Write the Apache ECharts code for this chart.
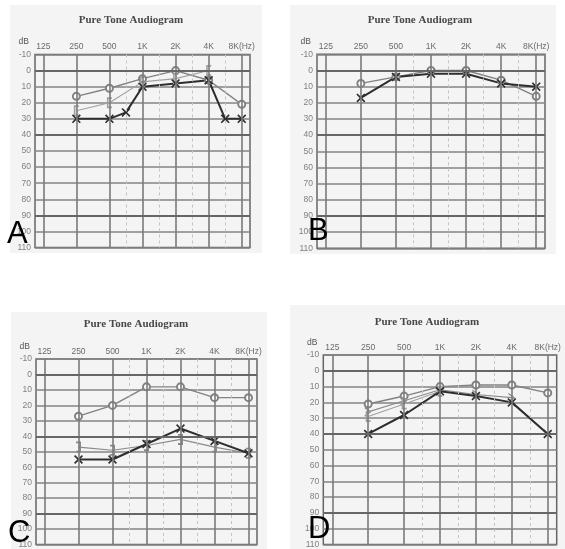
<!DOCTYPE html>
<html>
<head>
<meta charset="utf-8">
<script src="https://cdn.jsdelivr.net/npm/echarts@6/dist/echarts.min.js"></script>
<style>
html,body{margin:0;padding:0;background:#ffffff;}
#chart{width:565px;height:549px;}
</style>
</head>
<body>
<div id="chart"></div>
<script>
// ---- categories / tick labels ----
const xCategories = ['125','177','250','354','500','750','1K','1.5K','2K','3K','4K','6K','8K'];
const topLabels   = ['125','','250','','500','','1K','','2K','','4K','','8K(Hz)'];
const octaveLines = ['125','250','500','1K','2K','4K','8K'];
const midLines    = ['750','1.5K','3K','6K'];
const heavyDb     = [0, 40, 90];
const panelLetters = ['A','B','C','D'];
const panelTitle = 'Pure Tone Audiogram';

// ---- Panel A ----
const aRightAir = [['250',16],['500',11],['1K',5],['2K',0],['4K',6],['8K',21]];
const aBone     = [['250',25],['500',20],['1K',7],['2K',5],['4K',0]];
const aLeftAir  = [['250',30],['500',30],['750',26],['1K',10],['2K',8],['4K',6],['6K',30],['8K',30]];
// ---- Panel B ----
const bRightAir = [['250',8],['500',4],['1K',0],['2K',0],['4K',6],['8K',16]];
const bLeftAir  = [['250',17],['500',4],['1K',2],['2K',2],['4K',8],['8K',10]];
// ---- Panel C ----
const cRightAir = [['250',27],['500',20],['1K',8],['2K',8],['4K',15],['8K',15]];
const cBone     = [['250',47],['500',49],['1K',46],['2K',42],['4K',47],['8K',51]];
const cLeftAir  = [['250',55],['500',55],['1K',45],['2K',35],['4K',43],['8K',51]];
// ---- Panel D ----
const dRightAir = [['250',21],['500',16],['1K',10],['2K',9],['4K',9],['8K',14]];
const dBone     = [['250',26],['500',19],['1K',12],['2K',15],['4K',17]];
const dBone2    = [['250',29],['500',21],['1K',13]];
const dLeftAir  = [['250',40],['500',28],['1K',13],['2K',16],['4K',20],['8K',40]];

const X_PATH  = 'path://M0,1.3L1.3,0L5,3.7L8.7,0L10,1.3L6.3,5L10,8.7L8.7,10L5,6.3L1.3,10L0,8.7L3.7,5Z';
const LB_PATH = 'path://M0,0L5,0L5,1.6L1.6,1.6L1.6,8.4L5,8.4L5,10L0,10Z';
const RB_PATH = 'path://M0,0L5,0L5,10L0,10L0,8.4L3.4,8.4L3.4,1.6L0,1.6Z';
const GT_PATH = 'path://M0,0L7,5L0,10L0,8.4L4.6,5L0,1.6Z';

const grids = [
  {left:35,    top:54.5, width:215,   height:193},
  {left:317,   top:54.3, width:228,   height:194},
  {left:36,    top:359,  width:221,   height:189.6},
  {left:323.3, top:355,  width:233.4, height:189.6}
];

const styles = {
  rightAir: {color:'#828282', width:1.4, symbol:'emptyCircle', size:7},
  leftAir:  {color:'#2e2e2e', width:2.0, symbol:X_PATH, size:9},
  boneL:    {color:'#a0a0a0', width:1.1, symbol:LB_PATH, size:[5,11]},
  boneR:    {color:'#8a8a8a', width:1.1, symbol:RB_PATH, size:[5,11]},
  boneGT:   {color:'#8a8a8a', width:1.1, symbol:GT_PATH, size:[7,10]}
};

const panelSeries = [
  [[aRightAir,'rightAir'],[aBone,'boneL'],[aLeftAir,'leftAir']],
  [[bRightAir,'rightAir'],[bLeftAir,'leftAir']],
  [[cRightAir,'rightAir'],[cBone,'boneR'],[cLeftAir,'leftAir']],
  [[dRightAir,'rightAir'],[dBone,'boneGT'],[dBone2,'boneL'],[dLeftAir,'leftAir']]
];

const xAxes = [], yAxes = [], series = [];
grids.forEach((g, i) => {
  xAxes.push({
    gridIndex:i, type:'category', data:xCategories, boundaryGap:true, position:'top',
    axisLine:{show:false}, axisTick:{show:false}, splitLine:{show:false},
    axisLabel:{interval:0, margin:3, fontSize:8.5, color:'#6a6a6a', fontFamily:'Liberation Sans',
      formatter:(v, idx) => topLabels[idx]}
  });
  yAxes.push({
    gridIndex:i, type:'value', inverse:true, min:-10, max:110, interval:10,
    axisLine:{show:false}, axisTick:{show:false},
    splitLine:{show:true, lineStyle:{color:'#858585', width:1.5}},
    axisLabel:{fontSize:8.5, color:'#808080', margin:4, fontFamily:'Liberation Sans'},
    name:'dB', nameLocation:'start', nameGap:8,
    nameTextStyle:{fontSize:8.5, color:'#555', align:'right', fontFamily:'Liberation Sans', padding:[0,6,0,0]}
  });
  const ml = [];
  octaveLines.forEach(c => ml.push({xAxis:c, lineStyle:{color:'#7a7a7a', width:1.6, type:'solid'}}));
  midLines.forEach(c => ml.push({xAxis:c, lineStyle:{color:'#c4c4c4', width:1, type:[3,3]}}));
  heavyDb.forEach(v => ml.push({yAxis:v, lineStyle:{color:'#666', width:2.1, type:'solid'}}));
  series.push({
    type:'line', xAxisIndex:i, yAxisIndex:i, data:[], silent:true, z:1,
    markLine:{silent:true, symbol:['none','none'], label:{show:false}, animation:false, data:ml}
  });
  panelSeries[i].forEach(([data, key]) => {
    const s = styles[key];
    series.push({
      type:'line', xAxisIndex:i, yAxisIndex:i, data:data, z:3, silent:true,
      symbol:s.symbol, symbolSize:s.size,
      lineStyle:{color:s.color, width:s.width},
      itemStyle:{color:s.color, borderColor:s.color, borderWidth: key==='rightAir'?1.1:0},
      animation:false
    });
  });
});

const bgRects = [
  {x:10,  y:5,   w:252, h:248},
  {x:290, y:5,   w:266, h:249},
  {x:11,  y:312, w:256, h:237},
  {x:290, y:305, w:275, h:244}
];
const titlePos = [[131,20],[420,20],[136,324],[427,322]];
const letterPos = [[7,219],[308,216],[8,518],[308,514]];

const graphic = [];
bgRects.forEach(r => graphic.push({type:'rect', z:-100, silent:true,
  shape:{x:r.x, y:r.y, width:r.w, height:r.h}, style:{fill:'#f4f4f4'}}));
titlePos.forEach(p => graphic.push({type:'text', x:p[0], y:p[1], z:10, silent:true,
  style:{text:panelTitle, font:'bold 11px "Liberation Serif"', fill:'#484848', textAlign:'center', textVerticalAlign:'middle'}}));
letterPos.forEach((p, i) => graphic.push({type:'text', x:p[0], y:p[1], z:10, silent:true,
  style:{text:panelLetters[i], font:'31px "Liberation Sans"', fill:'#000', textAlign:'left', textVerticalAlign:'top'}}));

const chart = echarts.init(document.getElementById('chart'), null, {renderer:'canvas'});
chart.setOption({
  animation:false,
  backgroundColor:'#ffffff',
  grid: grids.map(g => Object.assign({show:true, borderColor:'#666', borderWidth:1.5, backgroundColor:'transparent', containLabel:false}, g)),
  xAxis:xAxes, yAxis:yAxes, series:series, graphic:graphic
});
</script>
</body>
</html>
